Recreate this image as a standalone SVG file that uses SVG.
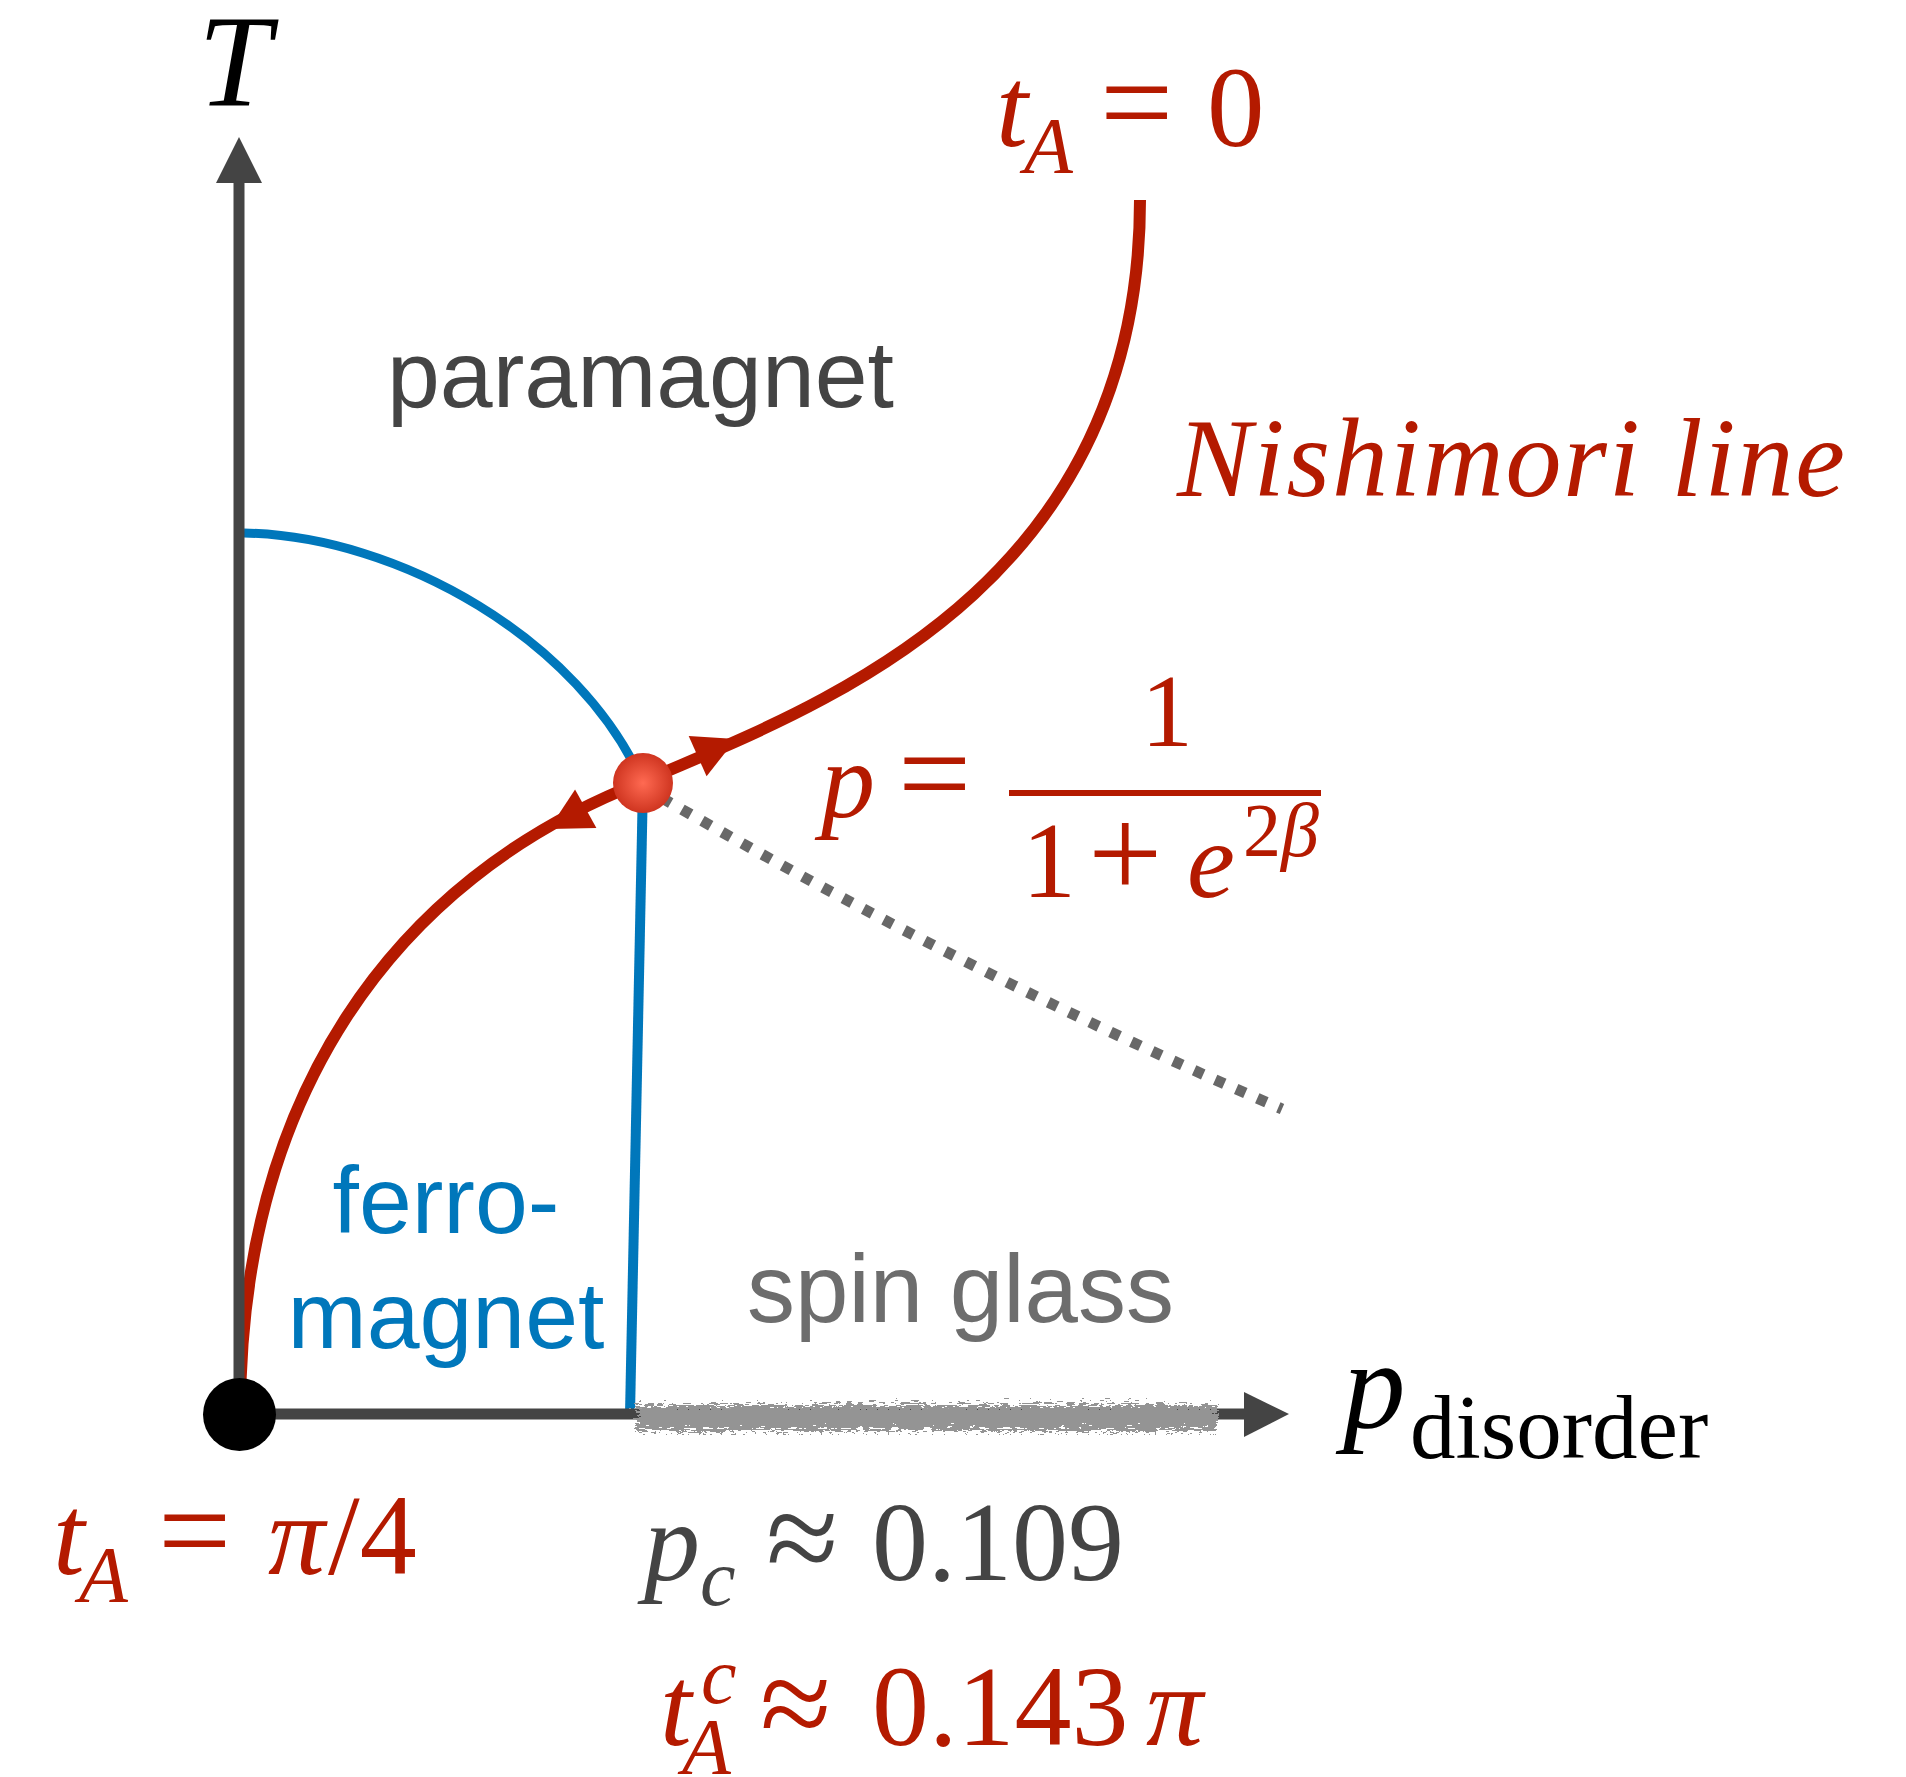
<svg xmlns="http://www.w3.org/2000/svg" width="1906" height="1777" viewBox="0 0 1906 1777">
<style>
.serif{font-family:"Liberation Serif","Times New Roman",serif}
.it{font-style:italic}
.sans{font-family:"Liberation Sans",Arial,sans-serif}
.red{fill:#b41a00}
.axis{stroke:#444444;stroke-width:11;fill:none}
</style>
<defs>
<radialGradient id="dotg" cx="0.5" cy="0.5" r="0.5">
<stop offset="0" stop-color="#ff6a52"/>
<stop offset="1" stop-color="#cf3520"/>
</radialGradient>
<path id="ah" d="M0,0 L-42,-22 L-42,22 Z" fill="#b41a00"/>
<filter id="rough" x="-5%" y="-100%" width="110%" height="300%">
<feTurbulence type="turbulence" baseFrequency="0.09 0.4" numOctaves="3" seed="7" result="n"/>
<feDisplacementMap in="SourceGraphic" in2="n" scale="18" xChannelSelector="R" yChannelSelector="G"/>
</filter>
</defs>
<rect width="1906" height="1777" fill="#ffffff"/>

<g id="connectors">
<path id="nishimori-lower" d="M240,1414 C240,1100 390,880 642,782" fill="none" stroke="#b41a00" stroke-width="12"/>
<path id="nishimori-upper" d="M642,782 C800,712 1140,600 1140,200" fill="none" stroke="#b41a00" stroke-width="12"/>
<path id="blue-boundary" d="M244,533 C400,536 580,640 643,783" fill="none" stroke="#0077bb" stroke-width="9"/>
<path id="blue-vertical" d="M643,783 L630,1414" fill="none" stroke="#0077bb" stroke-width="10"/>
<path id="dotted" d="M662,798 Q968,974 1282,1109" fill="none" stroke="#686868" stroke-width="11" stroke-dasharray="10 13"/>
<line class="axis" x1="239" y1="1414" x2="239" y2="180"/>
<polygon points="239,137 216,183 262,183" fill="#444444"/>
<line class="axis" x1="239" y1="1414" x2="1246" y2="1414"/>
<polygon points="1289,1414 1244,1392 1244,1437" fill="#444444"/>
<rect id="spin-glass-band" x="634" y="1401" width="578" height="26" fill="#949494" filter="url(#rough)"/>
<use href="#ah" transform="translate(736,739) rotate(-24)"/>
<use href="#ah" transform="translate(549,829) rotate(151)"/>
</g>

<g id="origin-dot"><circle cx="239.5" cy="1414.5" r="36.5" fill="#000000"/></g>
<g id="critical-dot"><circle cx="643" cy="783" r="30" fill="url(#dotg)"/></g>

<g id="label-T"><text class="serif it" x="198" y="106" font-size="131" fill="#000">T</text></g>
<g id="label-tA0" class="serif red">
<text class="it" x="996" y="146" font-size="115">t</text>
<text class="it" x="1024" y="173" font-size="80">A</text>
<text x="1100" y="146" font-size="130">=</text>
<text x="1207" y="146" font-size="115">0</text>
</g>
<g id="label-nishimori"><text class="serif it red" x="1177" y="496" font-size="112" textLength="668" lengthAdjust="spacing">Nishimori line</text></g>
<g id="label-paramagnet"><text class="sans" x="387" y="407" font-size="95" fill="#444444">paramagnet</text></g>
<g id="label-ferro"><text class="sans" text-anchor="middle" font-size="95" fill="#0077bb"><tspan x="446" y="1233">ferro-</tspan><tspan x="446" y="1348">magnet</tspan></text></g>
<g id="label-spinglass"><text class="sans" x="747" y="1322" font-size="96" fill="#6d6d6d">spin glass</text></g>
<g id="label-formula" class="serif red">
<text class="it" x="821" y="817" font-size="108">p</text>
<text x="898" y="817" font-size="130">=</text>
<rect x="1009" y="790" width="312" height="6" fill="#b41a00"/>
<text x="1141" y="746" font-size="104">1</text>
<text x="1022" y="897" font-size="108">1</text>
<text x="1088" y="897" font-size="132">+</text>
<text class="it" x="1187" y="897" font-size="108">e</text>
<text x="1243" y="856" font-size="76">2<tspan class="it">β</tspan></text>
</g>
<g id="label-pdisorder" class="serif">
<text class="it" x="1343" y="1427" font-size="125" fill="#000">p</text>
<text x="1410" y="1458" font-size="91" fill="#000">disorder</text>
</g>
<g id="label-tApi4" class="serif red">
<text class="it" x="53" y="1574" font-size="114">t</text>
<text class="it" x="79" y="1602" font-size="80">A</text>
<text x="158" y="1574" font-size="130">=</text>
<text class="it" x="268" y="1574" font-size="114">π</text>
<text x="328" y="1574" font-size="114">/4</text>
</g>
<g id="label-pc" class="serif" fill="#444444">
<text class="it" x="644" y="1580" font-size="112">p</text>
<text class="it" x="700" y="1605" font-size="80">c</text>
<text x="766" y="1582" font-size="132">≈</text>
<text x="872" y="1580" font-size="112">0.109</text>
</g>
<g id="label-tAc" class="serif red">
<text class="it" x="660" y="1745" font-size="114">t</text>
<text class="it" x="701" y="1703" font-size="80">c</text>
<text class="it" x="682" y="1774" font-size="80">A</text>
<text x="760" y="1747" font-size="130">≈</text>
<text x="872" y="1745" font-size="114">0.143</text>
<text class="it" x="1146" y="1745" font-size="114">π</text>
</g>
</svg>
